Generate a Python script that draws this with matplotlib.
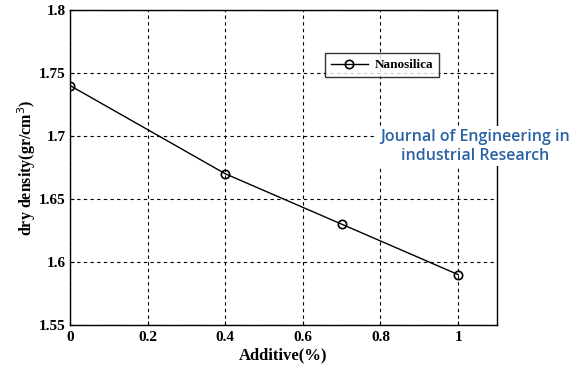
import matplotlib.pyplot as plt

additive = [0, 0.4, 0.7, 1.0]
dry_density = [1.74, 1.67, 1.63, 1.59]
xticks = [0, 0.2, 0.4, 0.6, 0.8, 1.0]
xtick_labels = ['0', '0.2', '0.4', '0.6', '0.8', '1']
yticks = [1.55, 1.6, 1.65, 1.7, 1.75, 1.8]
ytick_labels = ['1.55', '1.6', '1.65', '1.7', '1.75', '1.8']

plt.rcParams['font.family'] = ['Liberation Serif', 'DejaVu Serif']

fig = plt.figure(figsize=(5.7, 3.66), dpi=100)
ax = fig.add_axes([0.1228, 0.112, 0.749, 0.861])

ax.plot(additive, dry_density, color='black', linewidth=1.0, marker='o',
        markersize=6, markerfacecolor='none', markeredgewidth=1.2,
        label='Nanosilica')

ax.set_xlim(0, 1.1)
ax.set_ylim(1.55, 1.8)
ax.set_xticks(xticks)
ax.set_xticklabels(xtick_labels, fontweight='bold', fontsize=11)
ax.set_yticks(yticks)
ax.set_yticklabels(ytick_labels, fontweight='bold', fontsize=11)
ax.tick_params(axis='x', direction='in', length=3, pad=4)
ax.tick_params(axis='y', direction='in', length=3, pad=3)
ax.grid(True, color='black', linestyle=(0, (3, 3)), linewidth=0.8)
for s in ax.spines.values():
    s.set_linewidth(1.0)

ax.set_xlabel('Additive(%)', fontweight='bold', fontsize=12, labelpad=3)
ax.set_ylabel('dry density(gr/cm$^3$)', fontweight='bold', fontsize=11.5, labelpad=1)

leg = ax.legend(loc='upper left', bbox_to_anchor=(0.597, 0.863), frameon=True,
                fancybox=False, edgecolor='black', borderaxespad=0,
                prop={'weight': 'bold', 'size': 9.5}, handlelength=2.8,
                borderpad=0.45, handletextpad=0.5)
leg.get_frame().set_linewidth(1.0)

# journal watermark, on a white patch over the grid and right spine
fig.text(0.833, 0.600, 'Journal of Engineering in\nindustrial Research',
         ha='center', va='center', fontsize=11.5, family='Open Sans',
         fontweight='semibold', color='#2a62a6', linespacing=1.2,
         bbox=dict(facecolor='white', edgecolor='none', pad=2))

fig.savefig('out.png', dpi=100)
